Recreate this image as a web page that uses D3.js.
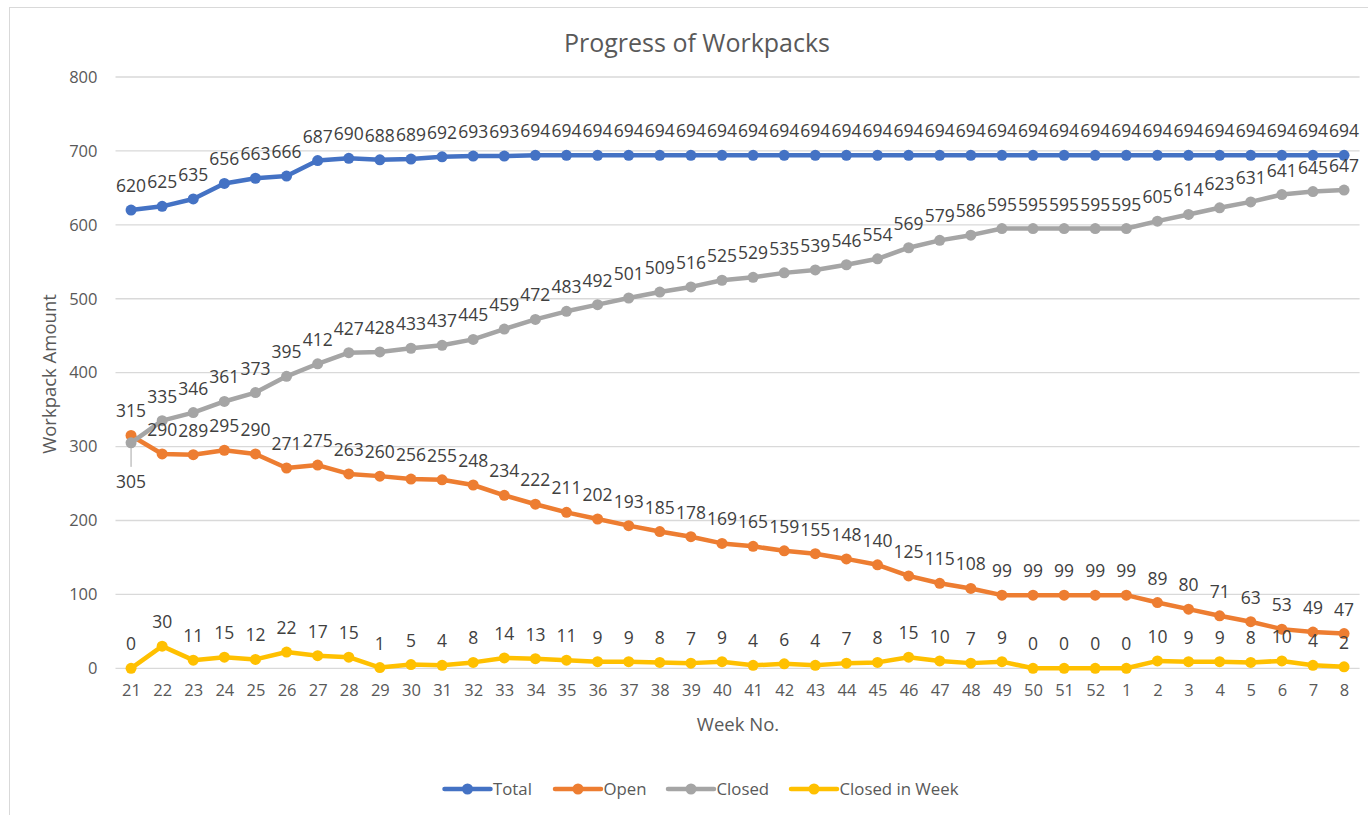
<!DOCTYPE html>
<html>
<head>
<meta charset="utf-8">
<script src="https://cdn.jsdelivr.net/npm/d3@7"></script>
<style>
  body { margin: 0; background: #fff; }
  svg { font-family: 'Open Sans', sans-serif; }
</style>
</head>
<body>
<div class="chart"></div>
<script>
// data
var weeks = ['21','22','23','24','25','26','27','28','29','30','31','32','33','34','35','36','37','38','39','40',
             '41','42','43','44','45','46','47','48','49','50','51','52','1','2','3','4','5','6','7','8'];
var totalWp = [620,625,635,656,663,666,687,690,688,689,692,693,693,694,694,694,694,694,694,694,
               694,694,694,694,694,694,694,694,694,694,694,694,694,694,694,694,694,694,694,694];
var openWp = [315,290,289,295,290,271,275,263,260,256,255,248,234,222,211,202,193,185,178,169,
              165,159,155,148,140,125,115,108,99,99,99,99,99,89,80,71,63,53,49,47];
var closedWp = [305,335,346,361,373,395,412,427,428,433,437,445,459,472,483,492,501,509,516,525,
                529,535,539,546,554,569,579,586,595,595,595,595,595,605,614,623,631,641,645,647];
var closedInWeek = [0,30,11,15,12,22,17,15,1,5,4,8,14,13,11,9,9,8,7,9,
                    4,6,4,7,8,15,10,7,9,0,0,0,0,10,9,9,8,10,4,2];
var yTicks = [0,100,200,300,400,500,600,700,800];

var series = [
  { name: 'Total', values: totalWp, color: '#4472C4' },
  { name: 'Open', values: openWp, color: '#ED7D31' },
  { name: 'Closed', values: closedWp, color: '#A5A5A5' },
  { name: 'Closed in Week', values: closedInWeek, color: '#FFC000' }
];

var W = 1368, H = 815;
var plot = { left: 115.5, right: 1359.6, top: 77, bottom: 668.3 };

var svg = d3.select('.chart')
    .append('svg')
    .attr('width', W)
    .attr('height', H);

svg.append('rect')
    .attr('x', 9.5).attr('y', 7.5)
    .attr('width', W).attr('height', H)
    .attr('fill', '#fff')
    .attr('stroke', '#d9d9d9');

var x = d3.scalePoint().domain(d3.range(weeks.length)).range([plot.left, plot.right]).padding(0.5);
var y = d3.scaleLinear().domain([0, 800]).range([plot.bottom, plot.top]);

// gridlines
svg.append('g')
    .selectAll('line')
    .data(yTicks)
    .enter()
    .append('line')
    .attr('x1', plot.left).attr('x2', plot.right)
    .attr('y1', function(d){ return y(d); })
    .attr('y2', function(d){ return y(d); })
    .attr('stroke', '#d9d9d9')
    .attr('stroke-width', 1.3);

// y axis
var yAxis = svg.append('g')
    .attr('transform', 'translate(' + plot.left + ',0)')
    .call(d3.axisLeft(y).tickValues(yTicks).tickSize(0).tickPadding(18));
yAxis.select('.domain').remove();
yAxis.selectAll('text')
    .attr('fill', '#595959')
    .attr('font-size', '16.5px')
    .attr('font-family', "'Open Sans', sans-serif");

// x axis
var xAxis = svg.append('g')
    .attr('transform', 'translate(0,' + plot.bottom + ')')
    .call(d3.axisBottom(x).tickSize(0).tickPadding(16).tickFormat(function(i){ return weeks[i]; }));
xAxis.select('.domain').remove();
xAxis.selectAll('text')
    .attr('fill', '#595959')
    .attr('font-size', '16.5px')
    .attr('font-family', "'Open Sans', sans-serif");

// titles
svg.append('text')
    .attr('x', 697).attr('y', 52)
    .attr('text-anchor', 'middle')
    .attr('fill', '#595959')
    .attr('font-size', '25px')
    .text('Progress of Workpacks');

svg.append('text')
    .attr('transform', 'translate(56,374) rotate(-90)')
    .attr('text-anchor', 'middle')
    .attr('fill', '#595959')
    .attr('font-size', '18.5px')
    .text('Workpack Amount');

svg.append('text')
    .attr('x', 738).attr('y', 731)
    .attr('text-anchor', 'middle')
    .attr('fill', '#595959')
    .attr('font-size', '18.5px')
    .text('Week No.');

// lines
var line = d3.line()
    .x(function(d, i){ return x(i); })
    .y(function(d){ return y(d); });

series.forEach(function(s){
    var g = svg.append('g');
    g.append('path')
        .datum(s.values)
        .attr('d', line)
        .attr('fill', 'none')
        .attr('stroke', s.color)
        .attr('stroke-width', 4.5)
        .attr('stroke-linejoin', 'round');
    g.selectAll('circle')
        .data(s.values)
        .enter()
        .append('circle')
        .attr('cx', function(d, i){ return x(i); })
        .attr('cy', function(d){ return y(d); })
        .attr('r', 5.5)
        .attr('fill', s.color);
});

// data labels (drawn after all lines so they sit on top)
series.forEach(function(s){
    svg.append('g')
        .selectAll('text')
        .data(s.values)
        .enter()
        .append('text')
        .attr('x', function(d, i){ return x(i); })
        .attr('y', function(d, i){
            // first closed label collides with open, so Excel pushes it below
            if (s.name === 'Closed' && i === 0) return y(d) + 45;
            return y(d) - 18;
        })
        .attr('text-anchor', 'middle')
        .attr('fill', '#404040')
        .attr('font-size', '17.5px')
        .text(function(d){ return d; });
});

// leader line for the pushed label
svg.append('line')
    .attr('x1', x(0)).attr('x2', x(0))
    .attr('y1', y(closedWp[0]) + 4).attr('y2', y(closedWp[0]) + 24)
    .attr('stroke', '#a6a6a6')
    .attr('stroke-width', 1);

// legend
var legendX = [444.5, 555, 668, 791];
var legend = svg.append('g');
series.forEach(function(s, i){
    var g = legend.append('g').attr('transform', 'translate(' + legendX[i] + ',789)');
    g.append('line')
        .attr('x1', 0).attr('x2', 46)
        .attr('stroke', s.color)
        .attr('stroke-width', 4.5)
        .attr('stroke-linecap', 'round');
    g.append('circle')
        .attr('cx', 23).attr('r', 5.5)
        .attr('fill', s.color);
    g.append('text')
        .attr('x', 48.5).attr('y', 6)
        .attr('fill', '#595959')
        .attr('font-size', '16.8px')
        .text(s.name);
});
</script>
</body>
</html>
